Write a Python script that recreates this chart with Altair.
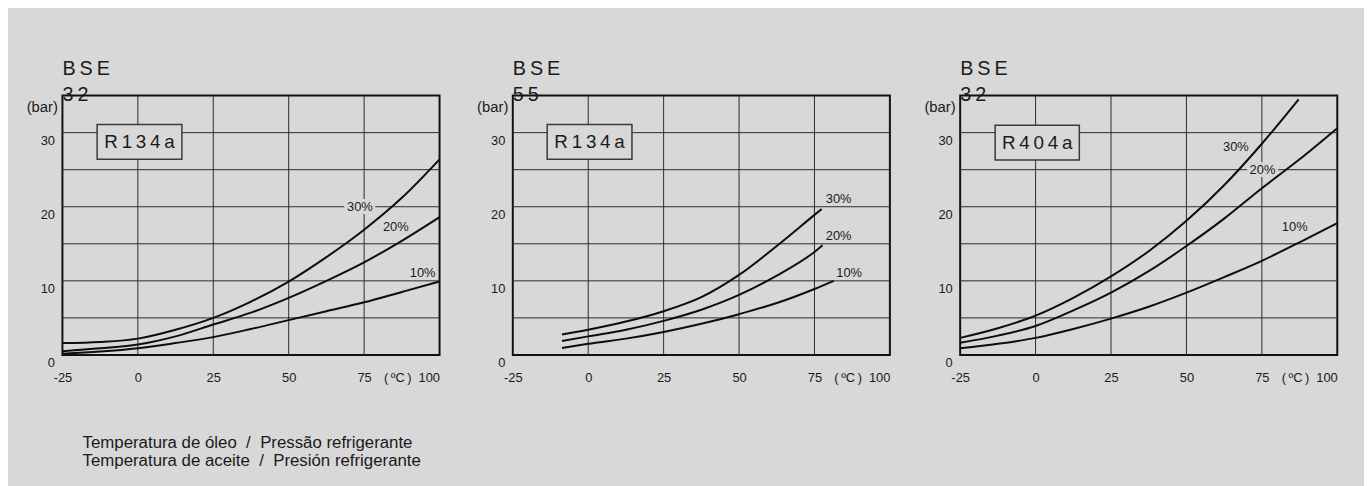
import altair as alt
import pandas as pd

BG = "#d8d8d8"
FONT = "Liberation Sans"
INK = "#1a1a1a"

# ---- shared axis data ----
X_DOMAIN = [-25, 100]
Y_DOMAIN = [0, 35]
X_GRID = [0, 25, 50, 75]
Y_GRID = [5, 10, 15, 20, 25, 30]
X_TICKS = [-25, 0, 25, 50, 75, 86, 100]
Y_TICKS = [0, 10, 20, 30]
UNIT_TICK = 86
UNIT_LABEL = "(\u2009ºC\u2009)"
SERIES = ["30%", "20%", "10%"]

MODELS = [["B\u2009S\u2009E", "3\u20092"], ["B\u2009S\u2009E", "5\u20095"], ["B\u2009S\u2009E", "3\u20092"]]
REFRIGERANTS = ["R\u20091\u20093\u20094\u2009a", "R\u20091\u20093\u20094\u2009a", "R\u20094\u20090\u20094\u2009a"]

# ---- panel 1 : BSE 32, R134a ----
P1_X = [-25, -12.5, 0, 12.5, 25, 37.5, 50, 62.5, 75, 87.5, 100]
P1_30 = [1.6, 1.75, 2.2, 3.4, 5.0, 7.2, 9.9, 13.2, 16.9, 21.2, 26.4]
P1_20 = [0.5, 0.9, 1.4, 2.5, 4.1, 5.7, 7.7, 10.0, 12.5, 15.4, 18.6]
P1_10 = [0.15, 0.45, 0.9, 1.6, 2.4, 3.5, 4.7, 5.9, 7.1, 8.5, 9.9]

# ---- panel 2 : BSE 55, R134a ----
P2_X30 = [-8.7, 0, 12.5, 25, 37.5, 50, 62.5, 75, 77.4]
P2_30 = [2.76, 3.4, 4.5, 5.9, 7.8, 10.8, 14.7, 18.9, 19.7]
P2_X20 = [-8.7, 0, 12.5, 25, 37.5, 50, 62.5, 75, 77.7]
P2_20 = [1.87, 2.5, 3.4, 4.6, 6.1, 8.1, 10.7, 13.9, 14.8]
P2_X10 = [-8.7, 0, 12.5, 25, 37.5, 50, 62.5, 75, 81.4]
P2_10 = [0.94, 1.5, 2.2, 3.1, 4.2, 5.5, 7.0, 8.9, 10.0]

# ---- panel 3 : BSE 32, R404a ----
P3_X30 = [-25, -12.5, 0, 12.5, 25, 37.5, 50, 62.5, 75, 87.2]
P3_30 = [2.3, 3.6, 5.3, 7.7, 10.6, 14.0, 18.1, 22.9, 28.5, 34.5]
P3_X = [-25, -12.5, 0, 12.5, 25, 37.5, 50, 62.5, 75, 87.5, 100]
P3_20 = [1.65, 2.6, 3.9, 6.0, 8.4, 11.3, 14.7, 18.4, 22.5, 26.4, 30.6]
P3_10 = [0.9, 1.5, 2.3, 3.5, 4.9, 6.5, 8.4, 10.5, 12.7, 15.2, 17.8]

# curve label positions (data units)
LABEL_X = [[73.6, 85.5, 94.4], [83.0, 83.0, 86.5], [66.4, 75.2, 85.9]]
LABEL_Y = [[20.0, 17.3, 11.1], [21.1, 16.0, 11.0], [28.0, 24.9, 17.2]]

# refrigerant box extents (data units)
BOX_X1 = [-13.5, -13.6, -13.4]
BOX_X2 = [14.6, 14.5, 14.5]
BOX_Y1 = [26.4, 26.4, 26.3]
BOX_Y2 = [31.1, 31.1, 31.0]

FOOTER = ["Temperatura de óleo\u00a0\u00a0/\u00a0\u00a0Pressão refrigerante",
          "Temperatura de aceite\u00a0\u00a0/\u00a0\u00a0Presión refrigerante"]

CURVES = [
    [(P1_X, P1_30), (P1_X, P1_20), (P1_X, P1_10)],
    [(P2_X30, P2_30), (P2_X20, P2_20), (P2_X10, P2_10)],
    [(P3_X30, P3_30), (P3_X, P3_20), (P3_X, P3_10)],
]

xscale = alt.Scale(domain=X_DOMAIN, nice=False, zero=False)
yscale = alt.Scale(domain=Y_DOMAIN, nice=False, zero=False)

xaxis = alt.Axis(
    values=X_TICKS, grid=False, ticks=False, domain=False, title=None,
    labelExpr=f"datum.value == {UNIT_TICK} ? '{UNIT_LABEL}' : toString(datum.value)",
    labelFlush=False, labelOverlap=False, labelPadding=17,
    labelFont=FONT, labelFontSize=13, labelColor=INK,
    labelAlign={"condition": {"test": "datum.value == 100", "value": "right"}, "value": "center"},
)
yaxis = alt.Axis(
    values=Y_TICKS, grid=False, ticks=False, domain=False,
    title="(bar)", titleAngle=0, titleAlign="right", titleBaseline="middle",
    titleX=-5, titleY=11, titleFont=FONT, titleFontSize=15,
    titleFontWeight="normal", titleColor=INK,
    labelBaseline="top", labelPadding=8, labelOffset=2, labelFont=FONT,
    labelFontSize=13, labelColor=INK,
)


def X(field="x"):
    return alt.X(f"{field}:Q", scale=xscale, axis=xaxis)


def Y(field="y"):
    return alt.Y(f"{field}:Q", scale=yscale, axis=yaxis)


def panel(i):
    rows = []
    for s, (xs, ys) in zip(SERIES, CURVES[i]):
        for xv, yv in zip(xs, ys):
            rows.append({"series": s, "x": xv, "y": yv})
    curves = pd.DataFrame(rows)
    labels = pd.DataFrame({"x": LABEL_X[i], "y": LABEL_Y[i], "t": SERIES})
    box = pd.DataFrame({"x": [BOX_X1[i]], "x2": [BOX_X2[i]], "y": [BOX_Y1[i]],
                        "y2": [BOX_Y2[i]], "t": [REFRIGERANTS[i]],
                        "cx": [(BOX_X1[i] + BOX_X2[i]) / 2],
                        "cy": [(BOX_Y1[i] + BOX_Y2[i]) / 2]})

    vgrid = alt.Chart(pd.DataFrame({"x": X_GRID})).mark_rule(
        color="#2a2a2a", strokeWidth=1).encode(x=X())
    hgrid = alt.Chart(pd.DataFrame({"y": Y_GRID})).mark_rule(
        color="#2a2a2a", strokeWidth=1).encode(y=Y())
    halo = alt.Chart(labels).mark_text(
        font=FONT, fontSize=13, fill=BG, stroke=BG, strokeWidth=6
    ).encode(x=X(), y=Y(), text="t:N")
    lines = alt.Chart(curves).mark_line(
        color="#0d0d0d", strokeWidth=2, interpolate="monotone"
    ).encode(x=X(), y=Y(), detail="series:N")
    txt = alt.Chart(labels).mark_text(
        font=FONT, fontSize=13, color=INK
    ).encode(x=X(), y=Y(), text="t:N")
    rect = alt.Chart(box).mark_rect(
        fill=BG, stroke="#3a3a3a", strokeWidth=1.5
    ).encode(x=X(), x2="x2:Q", y=Y(), y2="y2:Q")
    rtxt = alt.Chart(box).mark_text(
        font=FONT, fontSize=19, color=INK
    ).encode(x=X("cx"), y=Y("cy"), text="t:N")

    return alt.layer(vgrid, hgrid, halo, lines, txt, rect, rtxt).properties(
        width=381, height=262,
        title=alt.TitleParams(
            text=MODELS[i], anchor="start", frame="group", font=FONT,
            fontSize=20, fontWeight="normal", color=INK, lineHeight=26,
            baseline="bottom", offset=-18, dy=12,
        ),
    )


chart = alt.hconcat(panel(0), panel(1), panel(2), spacing=31).properties(
    background=BG,
    padding={"left": 17, "top": 48, "right": 22, "bottom": 22},
    title=alt.TitleParams(
        text=FOOTER, orient="bottom", anchor="start", font=FONT,
        fontSize=17, fontWeight="normal", color=INK, lineHeight=18,
        offset=50, dx=58,
    ),
).configure_view(stroke="#111", strokeWidth=2)

chart.save("out.html", embed_options={"renderer": "svg", "actions": False})
